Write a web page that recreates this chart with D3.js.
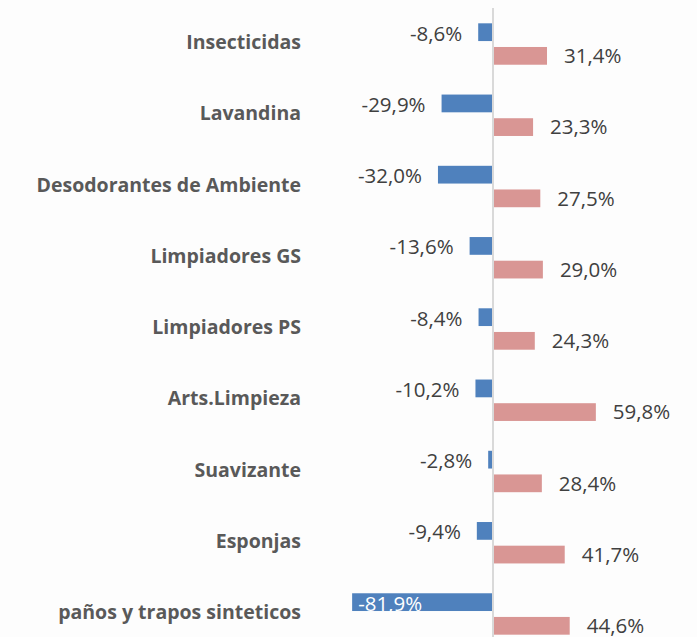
<!DOCTYPE html>
<html>
<head>
<meta charset="utf-8">
<script src="https://cdn.jsdelivr.net/npm/d3@7"></script>
<style>
  html, body { margin: 0; padding: 0; background: #fdfdfd; }
  svg { display: block; }
</style>
</head>
<body>
<svg id="chart" width="697" height="637"></svg>
<script>
const categories = ["Insecticidas", "Lavandina", "Desodorantes de Ambiente", "Limpiadores GS",
  "Limpiadores PS", "Arts.Limpieza", "Suavizante", "Esponjas", "paños y trapos sinteticos"];
const seriesNames = ["neg", "pos"];
const negValues = [-8.6, -29.9, -32.0, -13.6, -8.4, -10.2, -2.8, -9.4, -81.9];
const posValues = [31.4, 23.3, 27.5, 29.0, 24.3, 59.8, 28.4, 41.7, 44.6];
const colors = { neg: "#4f81bd", pos: "#d99694" };

const fmt = v => v.toFixed(1).replace(".", ",") + "%";

const svg = d3.select("#chart");
const W = 697, H = 637;

const x = d3.scaleLinear().domain([-85, 85]).range([346.8, 639.2]);
const y = d3.scaleBand().domain(categories).range([8.4, 649.6]).paddingInner(0).paddingOuter(0);
const ySub = d3.scaleBand().domain(seriesNames).range([0, y.bandwidth()])
  .paddingInner(0.25).paddingOuter(0.63);

const rows = categories.map((c, i) => ({ cat: c, neg: negValues[i], pos: posValues[i] }));

// zero axis line
svg.append("line")
  .attr("x1", x(0)).attr("x2", x(0))
  .attr("y1", 8).attr("y2", H)
  .attr("stroke", "#d9d9d9").attr("stroke-width", 2);

const g = svg.append("g");
const grp = g.selectAll("g.cat").data(rows).join("g")
  .attr("transform", d => `translate(0,${y(d.cat)})`);

// bars
grp.append("rect")
  .attr("x", d => x(d.neg))
  .attr("y", ySub("neg"))
  .attr("width", d => x(0) - 1 - x(d.neg))
  .attr("height", ySub.bandwidth())
  .attr("fill", colors.neg);

grp.append("rect")
  .attr("x", x(0) + 1)
  .attr("y", ySub("pos"))
  .attr("width", d => x(d.pos) - x(0) - 1)
  .attr("height", ySub.bandwidth())
  .attr("fill", colors.pos);

// value labels
const valFont = "'Open Sans', sans-serif";
grp.append("text")
  .attr("x", d => {
    const xe = x(d.neg);
    return xe < 420 ? xe + 6 : xe - 16;
  })
  .attr("y", ySub("neg") + ySub.bandwidth() / 2 + 1)
  .attr("dy", "0.36em")
  .attr("text-anchor", d => x(d.neg) < 420 ? "start" : "end")
  .attr("font-family", valFont)
  .attr("font-size", "20.5px")
  .attr("fill", d => x(d.neg) < 420 ? "#ffffff" : "#404040")
  .text(d => fmt(d.neg));

grp.append("text")
  .attr("x", d => x(d.pos) + 17)
  .attr("y", ySub("pos") + ySub.bandwidth() / 2)
  .attr("dy", "0.36em")
  .attr("text-anchor", "start")
  .attr("font-family", valFont)
  .attr("font-size", "20.5px")
  .attr("fill", "#404040")
  .text(d => fmt(d.pos));

// category labels
grp.append("text")
  .attr("x", 301)
  .attr("y", y.bandwidth() / 2 - 2)
  .attr("dy", "0.36em")
  .attr("text-anchor", "end")
  .attr("font-family", "'Open Sans', sans-serif")
  .attr("font-weight", 700)
  .attr("font-size", "19.5px")
  .attr("fill", "#595959")
  .text(d => d.cat);
</script>
</body>
</html>
